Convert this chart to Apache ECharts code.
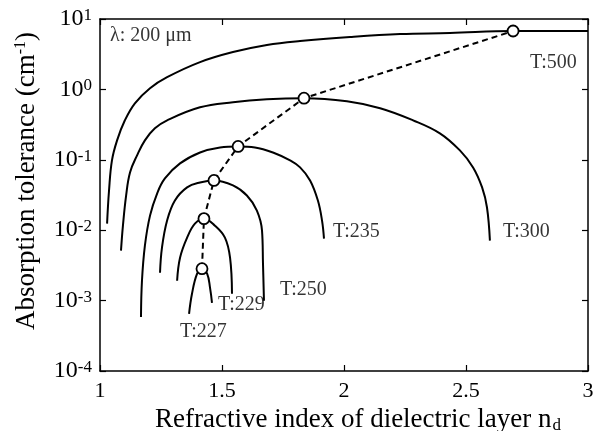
<!DOCTYPE html>
<html>
<head>
<meta charset="utf-8">
<script src="https://cdn.jsdelivr.net/npm/echarts@6/dist/echarts.min.js"></script>
<style>
html,body{margin:0;padding:0;background:#fff;}
#chart{width:598px;height:431px;}
</style>
</head>
<body>
<div id="chart"></div>
<script>
// ---- data ----
const xTicks = [1, 1.5, 2, 2.5, 3];
const yTickExponents = [-4, -3, -2, -1, 0, 1];

const t500X = [1.029,1.037,1.049,1.070,1.102,1.143,1.205,1.275,1.410,1.545,1.684,1.820,2.025,2.230,2.434,2.693,3.0];
const t500Y = [0.0124,0.0366,0.098,0.189,0.364,0.635,1.04,1.49,2.44,3.39,4.27,4.86,5.55,6.11,6.32,6.75,6.75];

const t300X = [1.086,1.094,1.107,1.123,1.152,1.184,1.225,1.275,1.410,1.545,1.684,1.836,2.012,2.148,2.283,2.393,2.475,2.529,2.566,2.586,2.598];
const t300Y = [0.00512,0.01164,0.0311,0.0662,0.1156,0.189,0.280,0.364,0.557,0.658,0.724,0.750,0.679,0.540,0.364,0.238,0.136,0.078,0.0405,0.0210,0.00711];

const t235X = [1.168,1.172,1.184,1.205,1.234,1.266,1.328,1.410,1.492,1.566,1.635,1.709,1.779,1.820,1.861,1.893,1.910,1.918];
const t235Y = [0.000587,0.00191,0.00604,0.0161,0.0332,0.0543,0.0889,0.127,0.150,0.155,0.150,0.127,0.098,0.078,0.0509,0.0264,0.0137,0.00759];

const t250X = [1.246,1.254,1.275,1.307,1.357,1.410,1.467,1.545,1.602,1.643,1.664,1.668,1.672];
const t250Y = [0.00249,0.00565,0.0137,0.0264,0.0405,0.0476,0.0509,0.0432,0.0311,0.0190,0.00986,0.00334,0.000993];

const t229X = [1.316,1.328,1.357,1.389,1.426,1.471,1.512,1.533,1.541];
const t229Y = [0.00191,0.00407,0.00785,0.0124,0.0146,0.0116,0.00785,0.00407,0.00125];

const t227X = [1.365,1.377,1.398,1.418,1.439,1.451,1.459];
const t227Y = [0.000649,0.00125,0.00241,0.00284,0.00241,0.00152,0.000931];

const optX = [1.418,1.426,1.467,1.566,1.836,2.693];
const optY = [0.00284,0.0146,0.0509,0.155,0.750,6.75];

const labelTexts = ['T:500','T:300','T:235','T:250','T:229','T:227','λ: 200 μm'];
const labelX = [2.762,2.652,1.955,1.738,1.484,1.328,1.041];
const labelY = [2.44,0.00986,0.00986,0.00147,0.0009,0.000372,5.92];

// ---- build chart ----
const FONT = '"Liberation Serif", "Times New Roman", serif';
const zip = (xs, ys) => xs.map((x, i) => [x, ys[i]]);
const curves = [[t500X,t500Y],[t300X,t300Y],[t235X,t235Y],[t250X,t250Y],[t229X,t229Y],[t227X,t227Y]];

const series = curves.map(([xs, ys]) => ({
  type: 'line',
  data: zip(xs, ys),
  smooth: 0.4,
  showSymbol: false,
  lineStyle: {color: '#000', width: 2},
  z: 2,
  silent: true
}));

series.push({
  type: 'line',
  data: zip(optX, optY),
  showSymbol: true,
  symbol: 'circle',
  symbolSize: 11,
  itemStyle: {color: '#fff', borderColor: '#000', borderWidth: 1.8},
  lineStyle: {color: '#000', width: 2, type: [6, 4]},
  z: 4,
  silent: true
});

series.push({
  type: 'scatter',
  data: labelTexts.map((t, i) => ({value: [labelX[i], labelY[i]], name: t})),
  symbolSize: 0,
  silent: true,
  label: {
    show: true,
    position: 'right',
    distance: 0,
    offset: [0, 1],
    formatter: p => p.name,
    color: '#000',
    fontFamily: FONT,
    fontSize: 20
  },
  z: 5
});

const yFormatter = v => {
  const e = Math.round(Math.log10(v));
  if (!yTickExponents.includes(e)) return '';
  return '{b|10}{s|' + (e < 0 ? '-' + (-e) : e) + '}';
};

const option = {
  animation: false,
  backgroundColor: '#fff',
  grid: {left: 100, right: 10, top: 19, bottom: 60, containLabel: false, outerBoundsMode: 'none'},
  xAxis: [{
    type: 'value', min: xTicks[0], max: xTicks[xTicks.length - 1], interval: 0.5,
    position: 'bottom',
    axisLine: {lineStyle: {color: '#000', width: 1.5}},
    axisTick: {inside: true, length: 6, lineStyle: {color: '#000', width: 1.2}},
    splitLine: {show: false},
    axisLabel: {color: '#000', fontFamily: FONT, fontSize: 22, margin: 9,
      formatter: v => xTicks.includes(v) ? String(v) : ''},
    name: '{m|Refractive index of dielectric layer n}{sub|d}',
    nameLocation: 'middle',
    nameGap: 35,
    nameTextStyle: {
      color: '#000', fontFamily: FONT, fontSize: 27,
      padding: [0, 0, 0, 28],
      rich: {
        m: {fontFamily: FONT, fontSize: 27, color: '#000'},
        sub: {fontFamily: FONT, fontSize: 17, color: '#000', verticalAlign: 'bottom', padding: [10, 0, 0, 1]}
      }
    }
  }, {
    type: 'value', min: xTicks[0], max: xTicks[xTicks.length - 1], interval: 0.5,
    position: 'top',
    axisLine: {lineStyle: {color: '#000', width: 1.5}},
    axisTick: {inside: true, length: 6, lineStyle: {color: '#000', width: 1.2}},
    axisLabel: {show: false},
    splitLine: {show: false}
  }],
  yAxis: [{
    type: 'log', logBase: 10, min: 1e-4, max: 10,
    position: 'left',
    axisLine: {lineStyle: {color: '#000', width: 1.5}},
    axisTick: {inside: true, length: 6, lineStyle: {color: '#000', width: 1.2}},
    minorTick: {show: false},
    splitLine: {show: false},
    axisLabel: {
      color: '#000', margin: 8, formatter: yFormatter,
      rich: {
        b: {fontFamily: FONT, fontSize: 24, color: '#000'},
        s: {fontFamily: FONT, fontSize: 17, color: '#000', verticalAlign: 'top'}
      }
    },
    name: '{m|Absorption tolerance (cm}{s|-1}{m|)}',
    nameLocation: 'middle',
    nameRotate: 90,
    nameGap: 60,
    nameTextStyle: {
      color: '#000',
      padding: [0, 0, 0, 28],
      rich: {
        m: {fontFamily: FONT, fontSize: 27, color: '#000'},
        s: {fontFamily: FONT, fontSize: 16, color: '#000', verticalAlign: 'top'}
      }
    }
  }, {
    type: 'log', logBase: 10, min: 1e-4, max: 10,
    position: 'right',
    axisLine: {lineStyle: {color: '#000', width: 1.5}},
    axisTick: {inside: true, length: 6, lineStyle: {color: '#000', width: 1.2}},
    axisLabel: {show: false},
    splitLine: {show: false}
  }],
  series: series
};

const chart = echarts.init(document.getElementById('chart'), null, {renderer: 'canvas'});
chart.setOption(option);
</script>
</body>
</html>
